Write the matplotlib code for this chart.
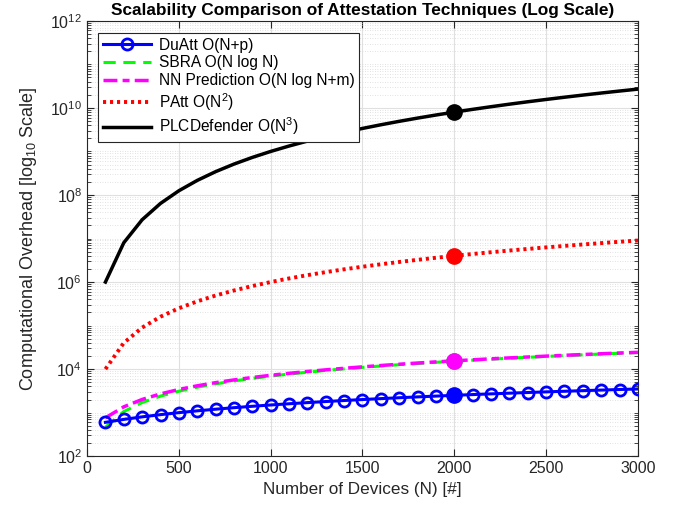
import numpy as np
import matplotlib
matplotlib.use('Agg')
import matplotlib.pyplot as plt
from matplotlib.ticker import LogLocator, NullFormatter, NullLocator

plt.rcParams['font.family'] = ['Liberation Sans', 'DejaVu Sans']
plt.rcParams['mathtext.fontset'] = 'custom'
plt.rcParams['mathtext.rm'] = 'Liberation Sans'
plt.rcParams['mathtext.it'] = 'Liberation Sans:italic'
plt.rcParams['mathtext.bf'] = 'Liberation Sans:bold'

# 设备数量
N = [100, 200, 300, 400, 500, 600, 700, 800, 900, 1000,
     1100, 1200, 1300, 1400, 1500, 1600, 1700, 1800, 1900, 2000,
     2100, 2200, 2300, 2400, 2500, 2600, 2700, 2800, 2900, 3000]

duatt = [600, 700, 800, 900, 1000, 1100, 1200, 1300, 1400, 1500,
         1600, 1700, 1800, 1900, 2000, 2100, 2200, 2300, 2400, 2500,
         2600, 2700, 2800, 2900, 3000, 3100, 3200, 3300, 3400, 3500]

sbra = [461, 1060, 1711, 2397, 3107, 3838, 4586, 5348, 6122, 6908,
        7703, 8508, 9321, 10142, 10970, 11804, 12645, 13492, 14344, 15202,
        16065, 16932, 17804, 18681, 19560, 20444, 21332, 22224, 23120, 24019]

nnpred = [761, 1360, 2011, 2697, 3407, 4138, 4886, 5648, 6422, 7208,
          8003, 8808, 9621, 10442, 11270, 12104, 12945, 13792, 14644, 15502,
          16365, 17232, 18104, 18981, 19860, 20744, 21632, 22524, 23420, 24319]

patt = [1.0e4, 4.0e4, 9.0e4, 1.6e5, 2.5e5, 3.6e5, 4.9e5, 6.4e5, 8.1e5, 1.0e6,
        1.21e6, 1.44e6, 1.69e6, 1.96e6, 2.25e6, 2.56e6, 2.89e6, 3.24e6, 3.61e6, 4.0e6,
        4.41e6, 4.84e6, 5.29e6, 5.76e6, 6.25e6, 6.76e6, 7.29e6, 7.84e6, 8.41e6, 9.0e6]

plcdef = [1.0e6, 8.0e6, 2.7e7, 6.4e7, 1.25e8, 2.16e8, 3.43e8, 5.12e8, 7.29e8, 1.0e9,
          1.331e9, 1.728e9, 2.197e9, 2.744e9, 3.375e9, 4.096e9, 4.913e9, 5.832e9, 6.859e9, 8.0e9,
          9.261e9, 1.0648e10, 1.2167e10, 1.3824e10, 1.5625e10, 1.7576e10, 1.9683e10, 2.1952e10, 2.4389e10, 2.7e10]

hl = 19  # N = 2000 高亮点

fig = plt.figure(figsize=(6.75, 5.08), dpi=100)
ax = fig.add_axes([0.129, 0.102, 0.816, 0.857])

ax.plot(N, duatt, '-o', color='#0000ff', lw=2.2, ms=8, mew=2,
        mfc='none', label='DuAtt O(N+p)', zorder=5)
ax.plot(N, sbra, '--', color='#00ff00', lw=2.2, dashes=(4, 2.5),
        label='SBRA O(N log N)', zorder=3)
ax.plot(N, nnpred, '-.', color='#ff00ff', lw=2.5, dashes=(4, 1.5, 2, 1.5),
        label='NN Prediction O(N log N+m)', zorder=4)
ax.plot(N, patt, ':', color='#ff0000', lw=2.8, dashes=(0.8, 1.0),
        label='PAtt O(N$^2$)', zorder=4)
ax.plot(N, plcdef, '-', color='black', lw=2.5,
        label='PLCDefender O(N$^3$)', zorder=4)

# 高亮 N=2000
ax.plot(N[hl], sbra[hl], 'o', color='#00ff00', ms=11, zorder=6)
ax.plot(N[hl], nnpred[hl], 'o', color='#ff00ff', ms=11, zorder=6)
ax.plot(N[hl], duatt[hl], 'o', color='#0000ff', ms=11, zorder=6)
ax.plot(N[hl], patt[hl], 'o', color='#ff0000', ms=11, zorder=6)
ax.plot(N[hl], plcdef[hl], 'o', color='black', ms=11, zorder=6)

ax.set_yscale('log')
ax.set_xlim(0, 3000)
ax.set_ylim(1e2, 1e12)
ax.set_xticks(np.arange(0, 3001, 500))
ax.set_yticks([1e2, 1e4, 1e6, 1e8, 1e10, 1e12])
ax.yaxis.set_minor_locator(LogLocator(base=10, subs=np.arange(1, 10), numticks=100))
ax.yaxis.set_minor_formatter(NullFormatter())
ax.xaxis.set_minor_locator(NullLocator())

ax.grid(True, which='major', color='#e0e0e0', lw=0.8, ls='-')
ax.grid(True, which='minor', axis='y', color='#d8d8d8', lw=0.6, ls=(0, (1, 2)))
ax.set_axisbelow(True)

ax.tick_params(which='both', direction='in', top=True, right=True, labelsize=11.5, colors='#262626')
ax.tick_params(which='major', length=5)
ax.tick_params(which='minor', length=3)
for s in ax.spines.values():
    s.set_color('#262626')
    s.set_linewidth(0.8)

ax.set_xlabel('Number of Devices (N) [#]', fontsize=12.3, color='#262626')
ax.set_ylabel('Computational Overhead [log$_{10}$ Scale]', fontsize=13, color='#262626', labelpad=8)
ax.set_title('Scalability Comparison of Attestation Techniques (Log Scale)',
             fontsize=12.4, fontweight='bold', pad=4)

leg = ax.legend(loc='upper left', bbox_to_anchor=(0.02, 0.972), borderaxespad=0,
                fontsize=11.2, frameon=True, fancybox=False, edgecolor='#262626',
                framealpha=1, handlelength=3.1, labelspacing=0.18, borderpad=0.3,
                handletextpad=0.5)
leg.get_frame().set_linewidth(0.8)
leg.set_zorder(10)

plt.savefig('out.png', dpi=100)
